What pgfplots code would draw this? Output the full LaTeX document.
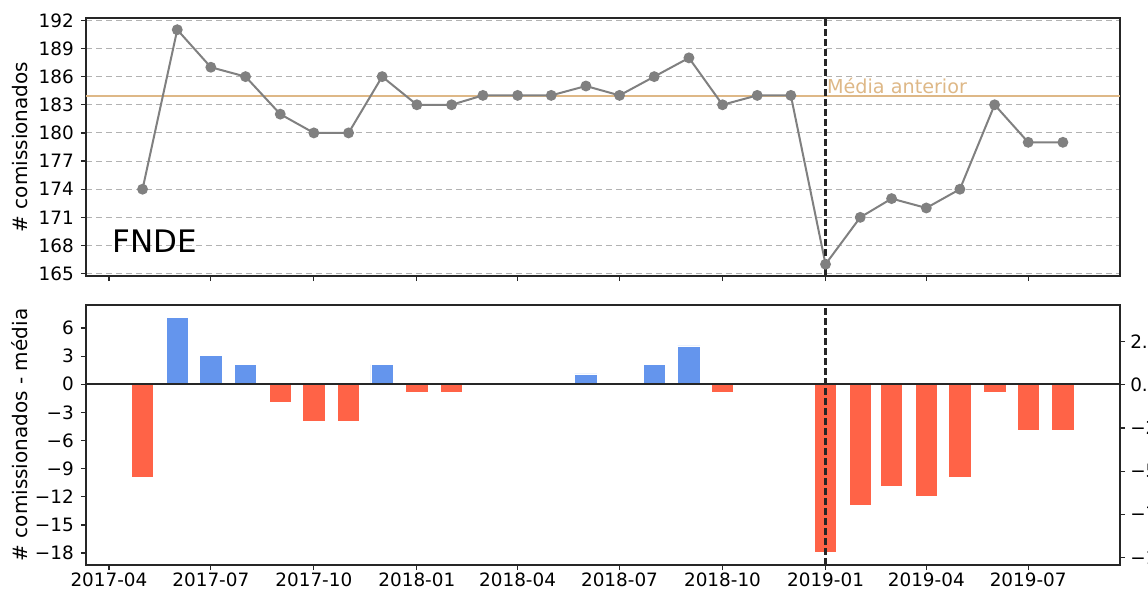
\documentclass[border=0pt]{standalone}
\usepackage{pgfplots}
\pgfplotsset{compat=1.18}
\usepackage{fontspec}
\setmainfont{DejaVu Sans}
\definecolor{lgray}{HTML}{808080}
\definecolor{burly}{HTML}{DEB887}
\definecolor{cblue}{HTML}{6495ED}
\definecolor{tomato}{HTML}{FF6347}
\definecolor{spine}{HTML}{262626}

\pgfplotsset{
  base/.style={
    scale only axis,
    anchor=south west,
    width=517pt,
    xmin=69.5, xmax=993,
    axis line style={spine, line width=0.6pt},
    tick align=outside,
    major tick length=2.6pt,
    every tick/.style={spine, line width=0.6pt},
    tick label style={font=\fontsize{9.2}{11}\selectfont, text=black},
    label style={font=\fontsize{9.6}{11}\selectfont},
    every axis y label/.style={at={(axis description cs:-0.064,0.5)}, rotate=90, anchor=center},
    xtick={90,181,273,365,455,546,638,730,820,911},
  }
}

\begin{document}
\begin{tikzpicture}
\path[use as bounding box] (0pt,0pt) rectangle (574pt,294.5pt);
\clip (0pt,0pt) rectangle (574pt,294.5pt);

% ---------- top panel ----------
\begin{axis}[base,
  at={(43pt,156.5pt)}, height=129pt,
  ymin=164.75, ymax=192.25,
  ytick={165,168,171,174,177,180,183,186,189,192},
  yticklabels={165,168,171,174,177,180,183,186,189,192},
  xticklabels={},
  xtick pos=left, ytick pos=left,
  ymajorgrids,
  major grid style={densely dashed, color=black!30, line width=0.5pt},
  ylabel={\# comissionados},
]
\addplot[burly, line width=1pt] coordinates {(69.5,183.9) (993,183.9)};
\addplot[lgray, line width=1pt, mark=*, mark size=2.2pt, mark options={fill=lgray, draw=lgray}] coordinates {
(120,174) (151,191) (181,187) (212,186) (243,182) (273,180) (304,180) (334,186)
(365,183) (396,183) (424,184) (455,184) (485,184) (516,185) (546,184) (577,186)
(608,188) (638,183) (669,184) (699,184)
(730,166) (761,171) (789,173) (820,172) (850,174) (881,183) (911,179) (942,179)};
\addplot[black!85, line width=1.1pt, dash pattern=on 3.4pt off 1.6pt] coordinates {(730,164.75) (730,192.25)};
\node[anchor=base west, inner sep=0pt, text=burly, font=\fontsize{9.6}{11}\selectfont] at (axis cs:731,184.25) {Média anterior};
\node[anchor=base west, inner sep=0pt, font=\fontsize{15.5}{18}\selectfont] at (rel axis cs:0.025,0.09) {FNDE};
\end{axis}

% ---------- bottom panel ----------
\begin{axis}[base,
  at={(43pt,12pt)}, height=130pt,
  ymin=-19.27, ymax=8.45,
  ytick={-18,-15,-12,-9,-6,-3,0,3,6},
  yticklabels={−18,−15,−12,−9,−6,−3,0,3,6},
  xticklabels={2017-04,2017-07,2017-10,2018-01,2018-04,2018-07,2018-10,2019-01,2019-04,2019-07},
  xticklabel style={yshift=2.2pt},
  xtick pos=left, ytick pos=left,
  ylabel={\# comissionados - média},
]
\addplot[ybar, bar width=20, bar shift=0pt, fill=cblue, draw=white, line width=0.3pt] coordinates {
(151,7.1) (181,3.1) (212,2.1) (334,2.1) (424,0.1) (455,0.1) (485,0.1) (516,1.1)
(546,0.1) (577,2.1) (608,4.1) (669,0.1) (699,0.1)};
\addplot[ybar, bar width=20, bar shift=0pt, fill=tomato, draw=white, line width=0.3pt] coordinates {
(120,-9.9) (243,-1.9) (273,-3.9) (304,-3.9) (365,-0.9) (396,-0.9) (638,-0.9)
(730,-17.9) (761,-12.9) (789,-10.9) (820,-11.9) (850,-9.9) (881,-0.9) (911,-4.9) (942,-4.9)};
\addplot[spine, line width=0.8pt] coordinates {(69.5,0) (993,0)};
\addplot[black!85, line width=1.1pt, dash pattern=on 3.4pt off 1.6pt] coordinates {(730,-19.27) (730,8.45)};
\end{axis}

% ---------- right twin axis ----------
\begin{axis}[base,
  at={(43pt,12pt)}, height=130pt,
  ymin=-10.43, ymax=4.61,
  axis x line=none,
  axis y line*=right,
  ytick={-10,-7.5,-5,-2.5,0,2.5},
  yticklabels={−10.0,−7.5,−5.0,−2.5,0.0,2.5},
  yticklabel style={xshift=-1pt},
  xtick=\empty,
]
\addplot[draw=none] coordinates {(100,0)};
\end{axis}
\end{tikzpicture}
\end{document}
